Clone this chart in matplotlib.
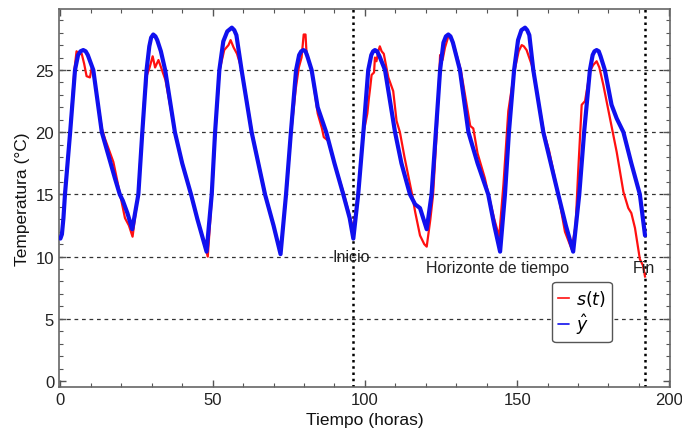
import numpy as np
import matplotlib
matplotlib.use('Agg')
from matplotlib import pyplot as plt
from matplotlib.ticker import MultipleLocator

plt.rcParams['font.family'] = ['Liberation Sans', 'DejaVu Sans']
plt.rcParams['mathtext.fontset'] = 'dejavusans'

# ŷ (curva azul)
t_yhat = [0, 0.5, 1, 1.5, 3.2, 4.8, 5.8, 6.6, 7.5, 8.3, 9, 10.8, 13.6, 17.9, 19.5, 20.5, 22, 23.6,
          25.6, 26.9, 28.3, 29.2, 29.8, 30.5, 31.2, 31.8, 33, 34.4, 37.6, 40, 42.9, 45, 48.0,
          49.7, 50.8, 52.2, 53.5, 54.8, 56.3, 57.1, 57.8, 59.5, 62.8, 67.2, 70, 72.3,
          74.1, 75.7, 77.4, 78.4, 79.1, 79.8, 80.5, 81.1, 82.5, 84.5, 87.3, 90, 92.9, 95, 96.2,
          97.8, 99.5, 101.1, 102.1, 102.7, 103.3, 104.0, 104.8, 106.6, 109.9, 112, 114.8, 116.5, 118.1, 120.3,
          121.9, 123.3, 124.7, 125.8, 126.6, 127.4, 128.1, 128.9, 131.2, 134, 137, 140.5, 142.5, 144.4,
          146.0, 147.3, 149.0, 150.3, 151.4, 152.6, 153.3, 154, 155.3, 158.6, 163.5, 166, 168.4,
          170.4, 172.0, 173.9, 174.8, 175.4, 176.1, 176.8, 177.4, 178.8, 181, 182.7, 184.9, 187.5, 190.3, 192]
yhat = [11.45, 11.8, 13.1, 15, 20, 25, 26.2, 26.5, 26.6, 26.5, 26.2, 25, 20, 16.3, 15, 14.5, 13.5, 12.2,
        15, 20, 25, 26.9, 27.6, 27.85, 27.7, 27.4, 26.5, 25, 20, 17.5, 15, 13, 10.4,
        15, 20, 25, 27.3, 28.1, 28.4, 28.2, 27.8, 25, 20, 15, 12.5, 10.2,
        15, 20, 25, 26.2, 26.5, 26.6, 26.5, 26.1, 25, 22, 20, 17.5, 15, 13.1, 11.45,
        15, 20, 25, 26.2, 26.5, 26.6, 26.5, 26.1, 25, 20, 17.5, 15, 14.2, 13.9, 12.2,
        15, 20, 25, 27.2, 27.7, 27.85, 27.7, 27.2, 25, 20, 17.5, 15, 12.5, 10.4,
        15, 20, 25, 27.4, 28.2, 28.4, 28.2, 27.8, 25, 20, 15, 12.5, 10.4,
        15, 20, 25, 26.2, 26.5, 26.6, 26.5, 26.1, 25, 22.2, 21.1, 20, 17.5, 15, 11.7]

# s(t) (medición, curva roja)
t_s = [0, 0.5, 1, 1.5, 3.2, 4.6, 5.3, 6.2, 7.0, 7.8, 8.6, 9.7, 10.3, 11, 13.6, 14.6, 17.4, 19.6, 21.2, 22.5, 23.7,
       25.5, 26.8, 27.6, 28.0, 28.3, 29.3, 30.3, 31.1, 32.2, 33.5, 34.5, 37.6, 40, 42.8, 45, 48.4,
       49.8, 50.9, 52.3, 53.8, 55.2, 55.9, 56.9, 58.0, 59.6, 62.9, 67.3, 70, 72.3,
       74.2, 75.8, 77.3, 77.7, 78.3, 79.2, 79.9, 80.5, 80.8, 82.6, 84.5, 85.9, 86.5, 88, 90, 92.9, 95, 96.2,
       97.8, 99.6, 100.8, 101.3, 101.7, 102.2, 103.0, 103.3, 103.8, 104.4, 104.9, 105.5, 106.2, 107.7, 109.3,
       110.4, 111.5, 113, 115.5, 116.5, 118.1, 119.5, 120.3,
       121.5, 122.4, 123.6, 124.5, 124.7, 125.5, 126.3, 127.4, 128.3, 129, 131.5, 134.6, 135.6, 137, 139.4,
       140.4, 142.5, 144.1,
       145.5, 147.1, 148.2, 149.2, 150.5, 151.5, 152.2, 153.1, 154.8, 155.5, 158.8, 160.5, 163.5, 165.7, 167.9,
       169.2, 170.1, 171.2, 172.3, 173.9, 175, 176.1, 177, 178.3, 180.5, 182.7, 184.9, 186.5, 187.5, 188.7,
       190.3, 191.3, 192]
s_t = [11.5, 11.8, 13.2, 15.2, 20.2, 25, 26.5, 26.3, 26.3, 25.5, 24.5, 24.4, 25.2, 24.5, 20.3, 19.5, 17.6, 15, 13.1, 12.5, 11.6,
       15, 20, 23, 23.1, 24.5, 25.2, 26.1, 25.2, 25.8, 24.9, 24.2, 20, 17.6, 15, 13, 10.0,
       15, 20, 25, 26.6, 27.0, 27.4, 26.8, 26.3, 25, 20, 15, 12.4, 10.2,
       15, 20, 23.5, 24.2, 25.2, 26.0, 27.85, 27.85, 26.5, 24.8, 21.5, 20.3, 19.6, 19.3, 17.5, 15.2, 13.3, 12.2,
       15.2, 20, 21.5, 22.7, 23.5, 24.6, 24.8, 26.0, 25.7, 26.5, 26.9, 26.5, 26.3, 24.4, 23.3,
       20.9, 20, 18, 15, 13.6, 11.7, 11.0, 10.8,
       13, 15, 20, 25, 26.2, 25.8, 26.8, 27.7, 27.6, 27.2, 25, 20.5, 20.3, 18.3, 16.3,
       15.2, 13, 11.6,
       15.8, 21.7, 23.5, 25, 26.5, 27.0, 26.9, 26.6, 25.4, 24.5, 20, 18.5, 15, 12, 10.6,
       12.5, 17.1, 22.2, 22.5, 24.9, 25.4, 25.7, 25.2, 23.8, 21.1, 18.4, 15.2, 13.9, 13.5, 12.3,
       9.8, 9.3, 8.4]

grid_levels = [5, 10, 15, 20, 25]
t_inicio = 96
t_fin = 192

fig = plt.figure(figsize=(6.82, 4.35), dpi=100)
ax = fig.add_axes([59 / 682, 1 - 388 / 435, 611 / 682, 378 / 435])

for g in grid_levels:
    ax.axhline(g, color='#333333', lw=0.9, ls=(0, (3, 3)), zorder=1)
for tv in [t_inicio, t_fin]:
    ax.axvline(tv, color='black', lw=1.8, ls=(0, (1, 1.5)), zorder=1)

ax.plot(t_s, s_t, color='#ff1010', lw=1.6, label=r'$s(t)$', zorder=3,
        solid_joinstyle='round')
ax.plot(t_yhat, yhat, color='#1010ee', lw=3.0, label=r'$\hat{y}$', zorder=4,
        solid_joinstyle='round', solid_capstyle='round')

ax.text(95.6, 10.0, 'Inicio', ha='center', va='center', fontsize=11.5, color='#222222', zorder=5)
ax.text(143.7, 9.1, 'Horizonte de tiempo', ha='center', va='center', fontsize=11.5, color='#222222', zorder=5)
ax.text(191.7, 9.1, 'Fin', ha='center', va='center', fontsize=11.5, color='#222222', zorder=5)

ax.set_xlim(-0.46, 200.2)
ax.set_ylim(-0.48, 29.9)
ax.xaxis.set_major_locator(MultipleLocator(50))
ax.xaxis.set_minor_locator(MultipleLocator(10))
ax.yaxis.set_major_locator(MultipleLocator(5))
ax.yaxis.set_minor_locator(MultipleLocator(1))
ax.tick_params(which='both', direction='in', top=True, right=True, color='#555555',
               labelsize=12, labelcolor='#222222')
ax.tick_params(which='major', length=5, width=1)
ax.tick_params(which='minor', length=3, width=0.8)
for sp in ax.spines.values():
    sp.set_color('#666666')
    sp.set_linewidth(1.2)

ax.set_xlabel('Tiempo (horas)', fontsize=12.5, color='#111111', labelpad=4)
ax.set_ylabel('Temperatura (°C)', fontsize=12.5, color='#111111', labelpad=4)

leg = ax.legend(loc='center', bbox_to_anchor=(0.856, 0.198), fontsize=12.5,
                handlelength=0.6, handletextpad=0.4, borderpad=0.35, labelspacing=0.2,
                fancybox=True, framealpha=1, edgecolor='#555555')
for line in leg.get_lines():
    line.set_linewidth(1.2)

fig.savefig('out.png', dpi=100)
